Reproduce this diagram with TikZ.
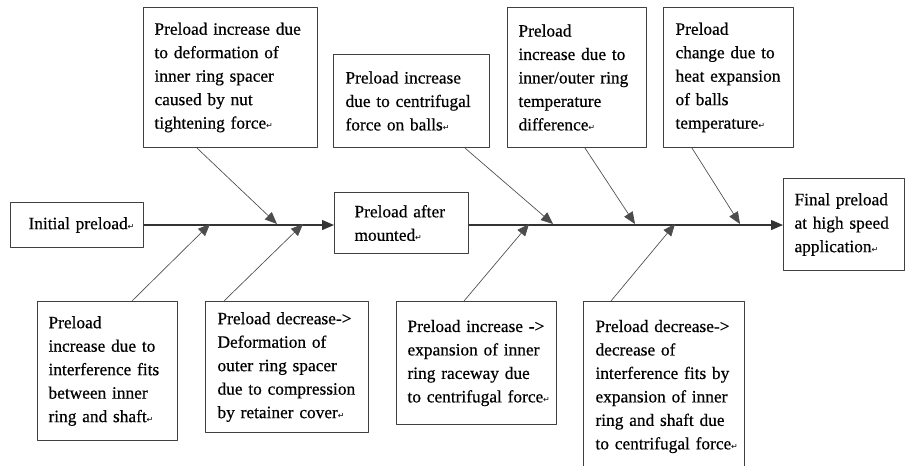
\documentclass[tikz,border=0pt]{standalone}
\usepackage{fontspec}
\setmainfont{Liberation Serif}[FakeBold=0.5]
\newfontfamily\symfont{DejaVu Sans}
\usetikzlibrary{arrows.meta,calc}

\newcommand{\parmark}{{\symfont\fontsize{6pt}{6pt}\selectfont ↵}}
\hyphenpenalty=10000

\begin{document}
\begin{tikzpicture}[x=0.75pt,y=-0.75pt,line cap=round,line join=round,
    cause/.style={draw=black!75,line width=0.8pt,anchor=north west,align=left,
      inner ysep=2pt,font=\fontsize{13pt}{17.6pt}\selectfont},
    spine/.style={draw=black!80,line width=0.9pt,-{Triangle[length=9pt,width=7.5pt]}},
    rib/.style={draw=black!70,line width=0.5pt,-{Triangle[length=9pt,width=7.5pt]}}]
  \useasboundingbox (0,0) rectangle (910,466);
  \clip (0,0) rectangle (910,466);

  % --- main line boxes ---
  \node[cause,inner xsep=13.5pt,text width=72.75pt,minimum height=33.75pt] (init) at (10,202)
    {Initial~preload\parmark};
  \node[cause,inner xsep=15pt,text width=70.5pt,minimum height=45.75pt] (mounted) at (334,192)
    {Preload~after\\ mounted\parmark};
  \node[cause,inner xsep=8.25pt,text width=74.25pt,minimum height=69pt] (final) at (783,178)
    {Final~preload\\ at~high~speed\\ application\parmark};

  % --- causes above the spine ---
  \node[cause,inner xsep=8.25pt,text width=114pt,minimum height=105pt] (defo) at (143,7)
    {Preload~increase~due\\ to deformation of\\ inner ring spacer\\ caused by nut\\ tightening force\parmark};
  \node[cause,inner xsep=9pt,text width=99pt,minimum height=69.75pt] (balls) at (333,54)
    {Preload increase\\ due~to~centrifugal\\ force on balls\parmark};
  \node[cause,inner xsep=8.25pt,text width=87.75pt,minimum height=105pt] (tdiff) at (507,7)
    {Preload\\ increase~due~to\\ inner/outer~ring\\ temperature\\ difference\parmark};
  \node[cause,inner xsep=9pt,text width=79.5pt,minimum height=105pt] (heat) at (663,7)
    {Preload\\ change~due~to\\ heat~expansion\\ of balls\\ temperature\parmark};

  % --- causes below the spine ---
  \node[cause,inner xsep=8.25pt,text width=88.5pt,minimum height=104.25pt] (fits) at (37,301)
    {Preload\\ increase~due~to\\ interference~fits\\ between inner\\ ring~and~shaft\parmark};
  \node[cause,inner xsep=9pt,text width=104.25pt,minimum height=98.25pt] (cover) at (205,301)
    {Preload~decrease->\\ Deformation of\\ outer~ring~spacer\\ due~to~compression\\ by~retainer~cover\parmark};
  \node[cause,inner xsep=8.25pt,text width=103.5pt,minimum height=92.25pt] (race) at (396,301)
    {Preload~increase~->\\ expansion~of~inner\\ ring~raceway~due\\ to~centrifugal~force\parmark};
  \node[cause,inner xsep=9pt,text width=102.75pt,minimum height=127.5pt] (shaft) at (583,301)
    {Preload~decrease->\\ decrease of\\ interference~fits~by\\ expansion~of~inner\\ ring~and~shaft~due\\ to~centrifugal~force\parmark};

  % --- spine ---
  \draw[spine] (init.east) -- (init.east -| mounted.west);
  \draw[spine] (mounted.east |- init.east) -- (init.east -| final.west);

  % --- points where the ribs meet the spine ---
  \coordinate (tDefo)  at (277,224);
  \coordinate (tFits)  at (210,224);
  \coordinate (tCover) at (303,224);
  \coordinate (tBalls) at (553,224);
  \coordinate (tRace)  at (529,224);
  \coordinate (tTdiff) at (635,224);
  \coordinate (tShaft) at (675,224);
  \coordinate (tHeat)  at (740,224);

  % --- ribs ---
  \draw[rib] ($(defo.south west)+(54,0)$)   -- (tDefo);
  \draw[rib] ($(fits.north west)+(95,0)$)   -- (tFits);
  \draw[rib] ($(cover.north west)+(19,0)$)  -- (tCover);
  \draw[rib] ($(balls.south west)+(132,0)$) -- (tBalls);
  \draw[rib] ($(race.north west)+(68,0)$)   -- (tRace);
  \draw[rib] ($(tdiff.south west)+(78,0)$)  -- (tTdiff);
  \draw[rib] ($(shaft.north west)+(28,0)$)  -- (tShaft);
  \draw[rib] ($(heat.south west)+(29,0)$)   -- (tHeat);
\end{tikzpicture}
\end{document}
